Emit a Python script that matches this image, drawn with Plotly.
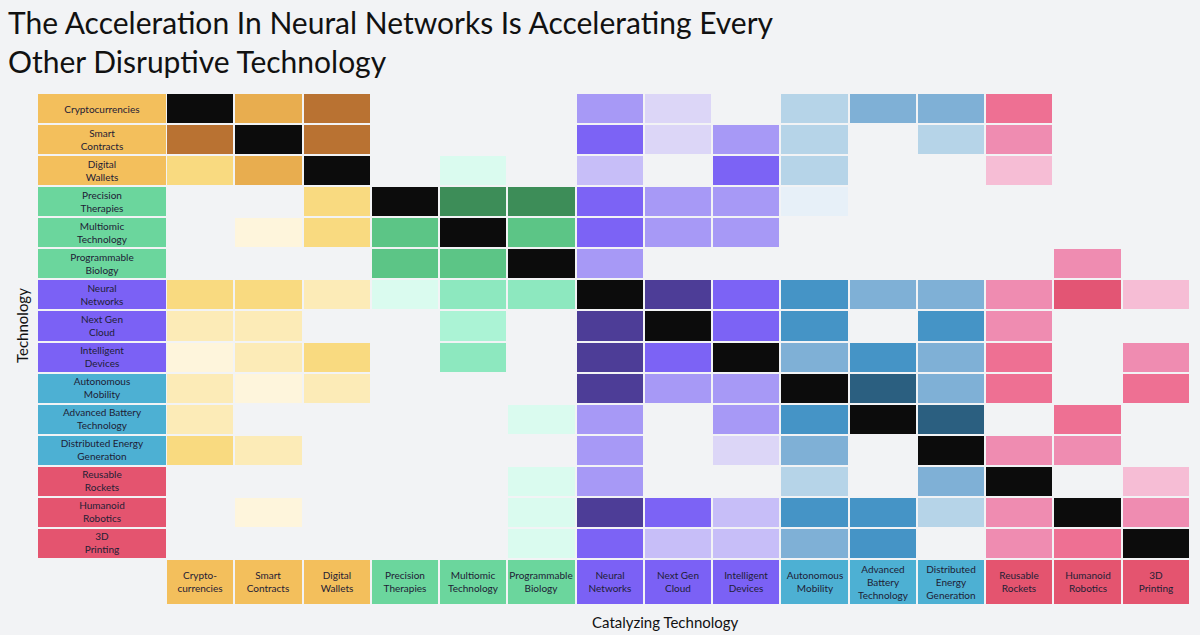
import plotly.graph_objects as go

# ---------------- data ----------------
row_labels = ["Cryptocurrencies", "Smart<br>Contracts", "Digital<br>Wallets",
              "Precision<br>Therapies", "Multiomic<br>Technology", "Programmable<br>Biology",
              "Neural<br>Networks", "Next Gen<br>Cloud", "Intelligent<br>Devices",
              "Autonomous<br>Mobility", "Advanced Battery<br>Technology", "Distributed Energy<br>Generation",
              "Reusable<br>Rockets", "Humanoid<br>Robotics", "3D<br>Printing"]
col_labels = ["Crypto-<br>currencies", "Smart<br>Contracts", "Digital<br>Wallets",
              "Precision<br>Therapies", "Multiomic<br>Technology", "Programmable<br>Biology",
              "Neural<br>Networks", "Next Gen<br>Cloud", "Intelligent<br>Devices",
              "Autonomous<br>Mobility", "Advanced<br>Battery<br>Technology", "Distributed<br>Energy<br>Generation",
              "Reusable<br>Rockets", "Humanoid<br>Robotics", "3D<br>Printing"]
tech_group = [0, 0, 0, 1, 1, 1, 2, 2, 2, 3, 3, 3, 4, 4, 4]

# impact level of each catalyzing technology (columns) on each technology (rows)
# 0 = none, 1..5 = increasing strength, 9 = self
cryptocurrencies = [9, 4, 5, 0, 0, 0, 3, 1, 0, 2, 3, 3, 4, 0, 0]
smart_contracts  = [5, 9, 5, 0, 0, 0, 4, 1, 3, 2, 0, 2, 3, 0, 0]
digital_wallets  = [3, 4, 9, 0, 1, 0, 2, 0, 4, 2, 0, 0, 2, 0, 0]
precision_ther   = [0, 0, 3, 9, 5, 5, 4, 3, 3, 1, 0, 0, 0, 0, 0]
multiomic_tech   = [0, 1, 3, 4, 9, 4, 4, 3, 3, 0, 0, 0, 0, 0, 0]
programmable_bio = [0, 0, 0, 4, 4, 9, 3, 0, 0, 0, 0, 0, 0, 3, 0]
neural_networks  = [3, 3, 2, 1, 3, 3, 9, 5, 4, 4, 3, 3, 3, 5, 2]
next_gen_cloud   = [2, 2, 0, 0, 2, 0, 5, 9, 4, 4, 0, 4, 3, 0, 0]
intelligent_dev  = [1, 2, 3, 0, 3, 0, 5, 4, 9, 3, 4, 3, 4, 0, 3]
autonomous_mob   = [2, 1, 2, 0, 0, 0, 5, 3, 3, 9, 5, 3, 4, 0, 4]
advanced_battery = [2, 0, 0, 0, 0, 1, 3, 0, 3, 4, 9, 5, 0, 4, 0]
distributed_en   = [3, 2, 0, 0, 0, 0, 3, 0, 1, 3, 0, 9, 3, 3, 0]
reusable_rockets = [0, 0, 0, 0, 0, 1, 3, 0, 0, 2, 0, 3, 9, 0, 2]
humanoid_robots  = [0, 1, 0, 0, 0, 1, 5, 4, 2, 4, 4, 2, 3, 9, 3]
printing_3d      = [0, 0, 0, 0, 0, 1, 4, 2, 2, 3, 4, 0, 3, 4, 9]

rows = [cryptocurrencies, smart_contracts, digital_wallets, precision_ther, multiomic_tech,
        programmable_bio, neural_networks, next_gen_cloud, intelligent_dev, autonomous_mob,
        advanced_battery, distributed_en, reusable_rockets, humanoid_robots, printing_3d]

# ---------------- styles ----------------
group_shades = [
    ["#FEF5DC", "#FCEBB7", "#F9DA80", "#E8AD4F", "#B97232"],   # crypto
    ["#DAFBEF", "#ABF3D5", "#8DE8BF", "#5CC586", "#3D8D58"],   # bio
    ["#DCD6F7", "#C7BEF8", "#A799F6", "#7C63F5", "#4D3D97"],   # AI
    ["#E7F0F8", "#B6D4E8", "#7FB0D6", "#4594C6", "#2B5F80"],   # energy / mobility
    ["#F6BDD5", "#F6BDD5", "#EF8CB1", "#EE7093", "#E35574"],   # robotics / space
]
self_color = "#0C0C0C"
label_colors = ["#F3BF5C", "#6BD69D", "#7B61F5", "#4DB0D3", "#E4546F"]
bg = "#F2F3F5"
font_family = "Lato, 'Open Sans', sans-serif"

palette = [c for g in group_shades for c in g] + [self_color]
N = len(palette)

def discrete_scale(colors):
    n = len(colors)
    cs = []
    for i, c in enumerate(colors):
        cs.append([i / n, c])
        cs.append([(i + 1) / n, c])
    return cs

z = []
for r in rows:
    zr = []
    for j, lv in enumerate(r):
        if lv == 0:
            zr.append(None)
        elif lv == 9:
            zr.append(N - 1)
        else:
            zr.append(tech_group[j] * 5 + (lv - 1))
    z.append(zr)

idx = list(range(15))

fig = go.Figure()

# main matrix
fig.add_trace(go.Heatmap(
    z=z, x=idx, y=idx, colorscale=discrete_scale(palette),
    zmin=-0.5, zmax=N - 0.5, showscale=False, xgap=2, ygap=2,
    hoverinfo="skip", xaxis="x", yaxis="y"))

# row labels
fig.add_trace(go.Heatmap(
    z=[[g] for g in tech_group], x=[0], y=idx, colorscale=discrete_scale(label_colors),
    zmin=-0.5, zmax=4.5, showscale=False, ygap=2,
    text=[[t] for t in row_labels], texttemplate="%{text}",
    textfont=dict(size=10, color="#1E2035", family=font_family),
    hoverinfo="skip", xaxis="x2", yaxis="y"))

# column labels
fig.add_trace(go.Heatmap(
    z=[tech_group], x=idx, y=[0], colorscale=discrete_scale(label_colors),
    zmin=-0.5, zmax=4.5, showscale=False, xgap=2,
    text=[col_labels], texttemplate="%{text}",
    textfont=dict(size=10, color="#1E2035", family=font_family),
    hoverinfo="skip", xaxis="x", yaxis="y2"))

W, H = 1200, 635
ax_common = dict(showgrid=False, zeroline=False, showticklabels=False, ticks="", showline=False)
fig.update_layout(
    width=W, height=H, margin=dict(l=0, r=0, t=0, b=0),
    paper_bgcolor=bg, plot_bgcolor=bg,
    xaxis=dict(domain=[166 / W, 1190 / W], range=[-0.5, 14.5], **ax_common),
    yaxis=dict(domain=[1 - 559 / H, 1 - 93 / H], range=[14.5, -0.5], **ax_common),
    xaxis2=dict(domain=[38 / W, 166 / W], range=[-0.5, 0.5], anchor="y", **ax_common),
    yaxis2=dict(domain=[1 - 604 / H, 1 - 560 / H], range=[-0.5, 0.5], anchor="x", **ax_common),
    font=dict(family=font_family),
    annotations=[
        dict(text="The Acceleration In Neural Networks Is Accelerating Every<br>Other Disruptive Technology",
             x=6 / W, y=1 - 2 / H, xref="paper", yref="paper", xanchor="left", yanchor="top",
             align="left", showarrow=False,
             font=dict(size=30, color="#111111", family=font_family)),
        dict(text="Technology", x=22 / W, y=1 - 326 / H, xref="paper", yref="paper",
             xanchor="center", yanchor="middle",
             textangle=-90, showarrow=False, font=dict(size=15, color="#111111", family=font_family)),
        dict(text="Catalyzing Technology", x=665 / W, y=1 - 622 / H, xref="paper", yref="paper",
             xanchor="center", yanchor="middle",
             showarrow=False, font=dict(size=15, color="#111111", family=font_family)),
    ],
)

fig.write_html("out.html", config={"displayModeBar": False},
               post_script="document.body.style.margin='0';document.body.style.background='#F2F3F5';")
